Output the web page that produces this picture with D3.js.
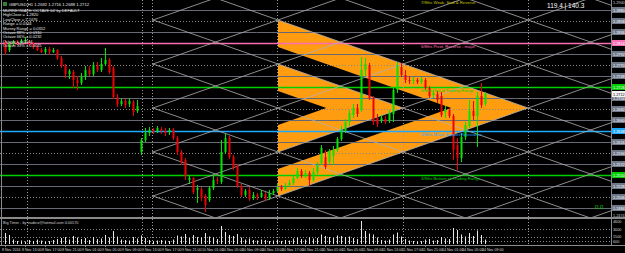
<!DOCTYPE html>
<html>
<head>
<meta charset="utf-8">
<script src="https://cdnjs.cloudflare.com/ajax/libs/d3/7.8.5/d3.min.js"></script>
<style>
body { margin: 0; background: #000; }
svg { display: block; }
text { font-family: "Liberation Sans", Arial, sans-serif; }
</style>
</head>
<body>
<div id="chart"></div>
<script>
// hourly bars
var openP = [
    1.2816, 1.2800, 1.2812, 1.2816, 1.2814, 1.2818, 1.2818, 1.2812, 1.2806, 1.2800,
    1.2796, 1.2802, 1.2796, 1.2800, 1.2784, 1.2768, 1.2752, 1.2756, 1.2740, 1.2734,
    1.2746, 1.2760, 1.2752, 1.2770, 1.2760, 1.2772, 1.2780, 1.2764, 1.2706, 1.2692,
    1.2698, 1.2692, 1.2696, 1.2678, 1.2596, 1.2620, 1.2634, 1.2640, 1.2638, 1.2642,
    1.2638, 1.2636, 1.2640, 1.2624, 1.2596, 1.2580, 1.2540, 1.2544, 1.2520, 1.2522,
    1.2508, 1.2500, 1.2524, 1.2540, 1.2536, 1.2596, 1.2624, 1.2586, 1.2568, 1.2528,
    1.2510, 1.2520, 1.2504, 1.2510, 1.2506, 1.2512, 1.2504, 1.2514, 1.2518, 1.2526,
    1.2522, 1.2530, 1.2534, 1.2544, 1.2558, 1.2548, 1.2554, 1.2540, 1.2556, 1.2574,
    1.2586, 1.2576, 1.2588, 1.2600, 1.2622, 1.2638, 1.2656, 1.2670, 1.2684, 1.2680,
    1.2760, 1.2770, 1.2704, 1.2664, 1.2658, 1.2662, 1.2658, 1.2672, 1.2720, 1.2766,
    1.2750, 1.2740, 1.2738, 1.2740, 1.2736, 1.2740, 1.2724, 1.2710, 1.2712, 1.2708,
    1.2676, 1.2680, 1.2668, 1.2610, 1.2584, 1.2626, 1.2648, 1.2678, 1.2668, 1.2708,
    1.2692
];
var highP = [
    1.2820, 1.2816, 1.2820, 1.2820, 1.2822, 1.2826, 1.2820, 1.2816, 1.2810, 1.2804,
    1.2806, 1.2806, 1.2804, 1.2802, 1.2788, 1.2772, 1.2762, 1.2760, 1.2748, 1.2754,
    1.2768, 1.2768, 1.2776, 1.2776, 1.2784, 1.2804, 1.2784, 1.2768, 1.2712, 1.2704,
    1.2702, 1.2704, 1.2700, 1.2700, 1.2624, 1.2644, 1.2646, 1.2644, 1.2648, 1.2646,
    1.2644, 1.2644, 1.2644, 1.2628, 1.2600, 1.2584, 1.2548, 1.2546, 1.2530, 1.2526,
    1.2512, 1.2528, 1.2548, 1.2546, 1.2620, 1.2632, 1.2628, 1.2590, 1.2572, 1.2532,
    1.2522, 1.2526, 1.2516, 1.2514, 1.2520, 1.2516, 1.2520, 1.2522, 1.2532, 1.2530,
    1.2534, 1.2540, 1.2548, 1.2564, 1.2562, 1.2560, 1.2558, 1.2564, 1.2576, 1.2610,
    1.2600, 1.2602, 1.2608, 1.2626, 1.2648, 1.2662, 1.2680, 1.2692, 1.2692, 1.2786,
    1.2784, 1.2774, 1.2708, 1.2672, 1.2670, 1.2668, 1.2680, 1.2724, 1.2776, 1.2774,
    1.2760, 1.2748, 1.2746, 1.2744, 1.2746, 1.2744, 1.2728, 1.2720, 1.2718, 1.2716,
    1.2688, 1.2684, 1.2672, 1.2624, 1.2634, 1.2656, 1.2700, 1.2698, 1.2716, 1.2734,
    1.2716
];
var lowP = [
    1.2790, 1.2796, 1.2808, 1.2810, 1.2812, 1.2814, 1.2808, 1.2802, 1.2798, 1.2794,
    1.2792, 1.2790, 1.2794, 1.2780, 1.2764, 1.2744, 1.2742, 1.2724, 1.2720, 1.2730,
    1.2740, 1.2748, 1.2748, 1.2756, 1.2756, 1.2768, 1.2752, 1.2702, 1.2686, 1.2688,
    1.2684, 1.2686, 1.2668, 1.2674, 1.2590, 1.2616, 1.2628, 1.2632, 1.2634, 1.2632,
    1.2628, 1.2630, 1.2620, 1.2590, 1.2570, 1.2540, 1.2532, 1.2512, 1.2494, 1.2498,
    1.2476, 1.2496, 1.2520, 1.2532, 1.2532, 1.2592, 1.2582, 1.2560, 1.2524, 1.2506,
    1.2506, 1.2498, 1.2500, 1.2500, 1.2504, 1.2498, 1.2500, 1.2510, 1.2514, 1.2518,
    1.2520, 1.2526, 1.2530, 1.2542, 1.2544, 1.2544, 1.2528, 1.2536, 1.2552, 1.2570,
    1.2562, 1.2572, 1.2570, 1.2596, 1.2618, 1.2634, 1.2648, 1.2664, 1.2666, 1.2676,
    1.2748, 1.2700, 1.2650, 1.2646, 1.2654, 1.2652, 1.2654, 1.2656, 1.2714, 1.2746,
    1.2734, 1.2732, 1.2732, 1.2732, 1.2732, 1.2720, 1.2704, 1.2704, 1.2694, 1.2666,
    1.2664, 1.2664, 1.2580, 1.2560, 1.2576, 1.2620, 1.2644, 1.2660, 1.2606, 1.2684,
    1.2688
];
var closeP = [
    1.2796, 1.2812, 1.2816, 1.2814, 1.2818, 1.2820, 1.2812, 1.2806, 1.2800, 1.2796,
    1.2802, 1.2796, 1.2800, 1.2784, 1.2768, 1.2752, 1.2758, 1.2740, 1.2734, 1.2746,
    1.2760, 1.2752, 1.2770, 1.2760, 1.2772, 1.2780, 1.2756, 1.2706, 1.2692, 1.2698,
    1.2690, 1.2698, 1.2676, 1.2688, 1.2620, 1.2634, 1.2640, 1.2636, 1.2644, 1.2638,
    1.2634, 1.2640, 1.2624, 1.2596, 1.2576, 1.2548, 1.2544, 1.2516, 1.2524, 1.2504,
    1.2490, 1.2524, 1.2540, 1.2538, 1.2596, 1.2624, 1.2586, 1.2566, 1.2528, 1.2510,
    1.2518, 1.2502, 1.2510, 1.2506, 1.2514, 1.2502, 1.2514, 1.2518, 1.2526, 1.2522,
    1.2530, 1.2534, 1.2544, 1.2558, 1.2548, 1.2554, 1.2540, 1.2556, 1.2570, 1.2604,
    1.2566, 1.2598, 1.2600, 1.2622, 1.2640, 1.2656, 1.2674, 1.2684, 1.2672, 1.2760,
    1.2772, 1.2704, 1.2656, 1.2652, 1.2664, 1.2656, 1.2674, 1.2720, 1.2768, 1.2750,
    1.2740, 1.2738, 1.2740, 1.2736, 1.2742, 1.2724, 1.2708, 1.2714, 1.2700, 1.2670,
    1.2680, 1.2668, 1.2600, 1.2584, 1.2626, 1.2650, 1.2678, 1.2668, 1.2708, 1.2690,
    1.2712
];
var volumes = [
    2200, 1800, 900, 600, 700, 500, 800, 600, 900, 700,
    500, 600, 800, 1000, 1200, 1400, 900, 1600, 1300, 1000,
    1200, 800, 1400, 1000, 1100, 1800, 1300, 2600, 1500, 900,
    800, 700, 1400, 1100, 1700, 1200, 800, 600, 700, 800,
    700, 600, 900, 1700, 1500, 2000, 1200, 1800, 1400, 1300,
    2200, 1500, 1300, 1000, 3600, 2400, 1800, 1600, 2000, 1300,
    900, 1100, 800, 700, 900, 800, 600, 700, 900, 600,
    800, 700, 1100, 1300, 1000, 900, 1300, 1100, 1200, 1900,
    1600, 1400, 1200, 1700, 1600, 1400, 1500, 1200, 1000, 4600,
    2600, 2100, 1900, 1300, 800, 700, 900, 1900, 2300, 1500,
    1000, 700, 600, 500, 600, 900, 1000, 700, 800, 1400,
    1100, 1000, 3200, 2800, 1900, 1500, 2200, 1600, 2700, 1800,
    900
];

// one label every 5 bars
var timeLabels = ["8 Nov 2016", "8 Nov 13:00", "8 Nov 17:00", "8 Nov 21:00", "9 Nov 01:00",
    "9 Nov 05:00", "9 Nov 09:00", "9 Nov 13:00", "9 Nov 17:00", "9 Nov 21:00",
    "10 Nov 01:00", "10 Nov 05:00", "10 Nov 09:00", "10 Nov 13:00", "10 Nov 17:00",
    "10 Nov 21:00", "11 Nov 01:00", "11 Nov 05:00", "11 Nov 09:00", "11 Nov 13:00",
    "11 Nov 17:00", "11 Nov 21:00", "14 Nov 01:00", "14 Nov 05:00", "14 Nov 09:00"];

// murrey math levels
var levelPrices = [1.2880, 1.2858, 1.2836, 1.2814, 1.2792, 1.2770, 1.2748, 1.2726, 1.2704, 1.2682,
    1.2660, 1.2638, 1.2616, 1.2594, 1.2572, 1.2550, 1.2528, 1.2506, 1.2484];
var levelKinds = ["solid", "dot", "solid", "pink", "solid", "dot", "solid", "green", "solid", "dot",
    "solid", "blue", "solid", "dot", "solid", "green", "solid", "dot", "solid"];
var murreyPrices = [1.2902, 1.2814, 1.2726, 1.2638, 1.2550];
var murreyTexts = ["7/8ths Weak, Stall & Reverse", "6/8ths Pivot, Reverse - major", "5/8ths Top of Trading Range",
    "4/8ths Major Support/Resistance", "3/8ths Bottom of Trading Range"];
var murreyColors = ["#c8c800", "#ff6eb4", "#00d000", "#1eaaff", "#00d000"];

var infoLines = ["MURREYMATH  'OCTAVE 64' by DEFAULT", "HighClose = 1.2820", "LowClose = 1.2476",
    "Range = 0.0344", "Murrey Range = 0.0352", "Octave 88% = 0.0310", "Octave 66% = 0.0232",
    "Octave = 0.0044", "Octave 33% = 0.0015"];

// gann grid and orange chevrons, in bar index / price
var vLineIdx = [5.5, 34.25, 36.75, 68, 99.5, 130.75];
var gannFromIdx = 36.75, gannAnchorIdx = 130.75, gannAnchorPrice = 1.2684;
var gannStepPrice = 0.0088, gannStepBars = 31.25;
var chevronStart = 68.25;
var chevronTips = [130.75, 99.5];
var chevronTops = [1.2860, 1.2772];
var chevronBottoms = [1.2508, 1.2596];
var chevronWidth = 0.0054;
var volTicks = [4600, 3000, 1500, 600];

var W = 625, H = 253;
var plotRight = 611, mainBottom = 217, volTop = 219, volBottom = 244;

var svg = d3.select("#chart").append("svg")
    .attr("width", W)
    .attr("height", H)
    .style("background", "#000");

var x = d3.scaleLinear().domain([0, 120]).range([5, 485]);
var y = d3.scaleLinear().domain([1.2474, 1.2900]).range([213, 0]);
var yv = d3.scaleLinear().domain([0, 5000]).range([volBottom, volTop]);

svg.append("clipPath").attr("id", "mainClip")
    .append("rect").attr("x", 0).attr("y", 0).attr("width", plotRight).attr("height", mainBottom);
var main = svg.append("g").attr("clip-path", "url(#mainClip)");

// orange chevrons
var line = d3.line().x(function(p) { return x(p[0]); }).y(function(p) { return y(p[1]); });
chevronTips.forEach(function(tip, j) {
    var top = chevronTops[j], bot = chevronBottoms[j], mid = (top + bot) / 2;
    var s = (top - mid) / (tip - chevronStart);
    var d = (top - bot - 2 * chevronWidth) / (2 * s);
    var pts = [[chevronStart, top], [tip, mid], [chevronStart, bot], [chevronStart, bot + chevronWidth],
        [chevronStart + d, mid], [chevronStart, top - chevronWidth]];
    main.append("path").attr("d", line(pts) + "Z").attr("fill", "#ff9c10");
});

// horizontal levels
var levelColor = { solid: "#656a74", dot: "#8a8a8a", pink: "#ff6eb4", green: "#00d000", blue: "#1eaaff" };
main.selectAll(".level")
    .data(levelPrices)
    .enter().append("line")
    .attr("x1", 0).attr("x2", plotRight)
    .attr("y1", function(d) { return Math.round(y(d)) + 0.5; })
    .attr("y2", function(d) { return Math.round(y(d)) + 0.5; })
    .attr("stroke", function(d, i) { return levelColor[levelKinds[i]]; })
    .attr("stroke-width", function(d, i) { return levelKinds[i] == "solid" || levelKinds[i] == "dot" ? 1 : 1.4; })
    .attr("stroke-dasharray", function(d, i) { return levelKinds[i] == "dot" ? "1,2" : null; });

// vertical dotted lines
svg.selectAll(".vline")
    .data(vLineIdx)
    .enter().append("line")
    .attr("x1", function(d) { return Math.round(x(d)) + 0.5; })
    .attr("x2", function(d) { return Math.round(x(d)) + 0.5; })
    .attr("y1", 0).attr("y2", volBottom)
    .attr("stroke", "#9a9a9a")
    .attr("stroke-dasharray", "1,2");

// gann grid
var gslope = gannStepPrice / gannStepBars;
var gEnd = 152;
for (var k = -10; k <= 10; k++) {
    [-1, 1].forEach(function(dir) {
        var p0 = gannAnchorPrice + dir * gslope * (gannFromIdx - gannAnchorIdx) + k * gannStepPrice;
        var p1 = gannAnchorPrice + dir * gslope * (gEnd - gannAnchorIdx) + k * gannStepPrice;
        main.append("line")
            .attr("x1", x(gannFromIdx)).attr("y1", y(p0))
            .attr("x2", x(gEnd)).attr("y2", y(p1))
            .attr("stroke", "#b0b0b0")
            .attr("stroke-width", 0.8);
    });
}

// candles
var idx = d3.range(openP.length);
var cx = function(i) { return Math.round(x(i)); };
var candleColor = function(i) { return closeP[i] >= openP[i] ? "#00e600" : "#f00000"; };

main.selectAll(".wick")
    .data(idx)
    .enter().append("line")
    .attr("x1", function(i) { return cx(i) + 0.5; })
    .attr("x2", function(i) { return cx(i) + 0.5; })
    .attr("y1", function(i) { return y(highP[i]); })
    .attr("y2", function(i) { return y(lowP[i]); })
    .attr("stroke", candleColor);

main.selectAll(".body")
    .data(idx)
    .enter().append("rect")
    .attr("x", function(i) { return cx(i) - 0.5; })
    .attr("width", 2)
    .attr("y", function(i) { return y(Math.max(openP[i], closeP[i])); })
    .attr("height", function(i) { return Math.max(1, Math.abs(y(openP[i]) - y(closeP[i]))); })
    .attr("fill", candleColor);

// murrey texts
murreyTexts.forEach(function(t, i) {
    svg.append("text")
        .attr("x", x(104))
        .attr("y", y(murreyPrices[i]) + 5)
        .attr("fill", murreyColors[i])
        .style("font-size", "4.2px")
        .text(t);
});

// info block top left
var last = openP.length - 1;
svg.append("text")
    .attr("x", 9).attr("y", 6)
    .attr("fill", "#e6e6e6")
    .style("font-size", "4.2px")
    .text("GBPUSD,H1  " + openP[last].toFixed(4) + " " + highP[last].toFixed(4) + " " + lowP[last].toFixed(4) + " " + closeP[last].toFixed(4));
svg.append("rect").attr("x", 3).attr("y", 2).attr("width", 4).attr("height", 4).attr("fill", "#3a7a3a");

svg.selectAll(".info")
    .data(infoLines)
    .enter().append("text")
    .attr("x", 3)
    .attr("y", function(d, i) { return 12 + i * 4.4; })
    .attr("fill", "#e6e6e6")
    .style("font-size", "4px")
    .text(function(d) { return d; });

svg.append("text")
    .attr("x", 547).attr("y", 8)
    .attr("fill", "#ffffff")
    .style("font-size", "6.5px")
    .text("119.4 | 140.3");

svg.append("text")
    .attr("x", 595).attr("y", 209)
    .attr("fill", "#00c800")
    .style("font-size", "6px")
    .text("0.0");

// panel borders
svg.append("line").attr("x1", 0).attr("x2", W).attr("y1", 218).attr("y2", 218)
    .attr("stroke", "#8a8a8a").attr("stroke-width", 2);
svg.append("line").attr("x1", 0).attr("x2", W).attr("y1", 245.5).attr("y2", 245.5)
    .attr("stroke", "#8a8a8a");
svg.append("line").attr("x1", 1.5).attr("x2", 1.5).attr("y1", 0).attr("y2", 245)
    .attr("stroke", "#8a8a8a");
svg.append("line").attr("x1", plotRight + 0.5).attr("x2", plotRight + 0.5).attr("y1", 0).attr("y2", 245)
    .attr("stroke", "#8a8a8a");

// volume panel
svg.selectAll(".vgrid")
    .data(volTicks.slice(1))
    .enter().append("line")
    .attr("x1", 0).attr("x2", plotRight)
    .attr("y1", function(d) { return Math.round(yv(d)) + 0.5; })
    .attr("y2", function(d) { return Math.round(yv(d)) + 0.5; })
    .attr("stroke", "#8a8a8a")
    .attr("stroke-dasharray", "1,2");

svg.selectAll(".vol")
    .data(idx)
    .enter().append("line")
    .attr("x1", function(i) { return cx(i) + 0.5; })
    .attr("x2", function(i) { return cx(i) + 0.5; })
    .attr("y1", yv(0))
    .attr("y2", function(i) { return yv(volumes[i]); })
    .attr("stroke", "#e8e8e8");

svg.append("text")
    .attr("x", 3).attr("y", 224)
    .attr("fill", "#d0d0d0")
    .style("font-size", "3.8px")
    .text("Big Timer - by traderz@hotmail.com 0.00170");

svg.selectAll(".vtick")
    .data(volTicks)
    .enter().append("text")
    .attr("x", 613)
    .attr("y", function(d) { return yv(d) + 1.5; })
    .attr("fill", "#d0d0d0")
    .style("font-size", "3.8px")
    .text(function(d) { return d; });

// price axis labels
var boxColor = { solid: "#6e7888", dot: "#6e7888", pink: "#ff6eb4", green: "#00d000", blue: "#1eaaff" };
var axisG = svg.selectAll(".plabel")
    .data(levelPrices)
    .enter().append("g")
    .attr("transform", function(d) { return "translate(612," + Math.round(y(d)) + ")"; });
axisG.append("rect")
    .attr("x", 0).attr("y", -3).attr("width", 13).attr("height", 6)
    .attr("fill", function(d, i) { return boxColor[levelKinds[i]]; });
axisG.append("text")
    .attr("x", 1).attr("y", 1.5)
    .attr("fill", "#ffffff")
    .style("font-size", "3.8px")
    .text(function(d) { return d.toFixed(4); });

var curr = svg.append("g").attr("transform", "translate(612," + Math.round(y(closeP[last])) + ")");
curr.append("rect").attr("x", 0).attr("y", -3).attr("width", 13).attr("height", 6).attr("fill", "#f4f4f4");
curr.append("text").attr("x", 1).attr("y", 1.5).attr("fill", "#000").style("font-size", "3.8px")
    .text(closeP[last].toFixed(4));

var extremes = [y.domain()[1], y.domain()[0]];
svg.selectAll(".ext")
    .data(extremes)
    .enter().append("text")
    .attr("x", 613)
    .attr("y", function(d) { return Math.min(y(d) + 4, 221); })
    .attr("fill", "#d0d0d0")
    .style("font-size", "3.8px")
    .text(function(d) { return d.toFixed(4); });

// time axis
svg.selectAll(".tlabel")
    .data(timeLabels)
    .enter().append("text")
    .attr("x", function(d, i) { return x(i * 5) - 3; })
    .attr("y", 251)
    .attr("fill", "#d8d8d8")
    .style("font-size", "3.6px")
    .text(function(d) { return d; });
svg.selectAll(".ttick")
    .data(timeLabels)
    .enter().append("line")
    .attr("x1", function(d, i) { return Math.round(x(i * 5)) + 0.5; })
    .attr("x2", function(d, i) { return Math.round(x(i * 5)) + 0.5; })
    .attr("y1", 245).attr("y2", 247)
    .attr("stroke", "#8a8a8a");
</script>
</body>
</html>
